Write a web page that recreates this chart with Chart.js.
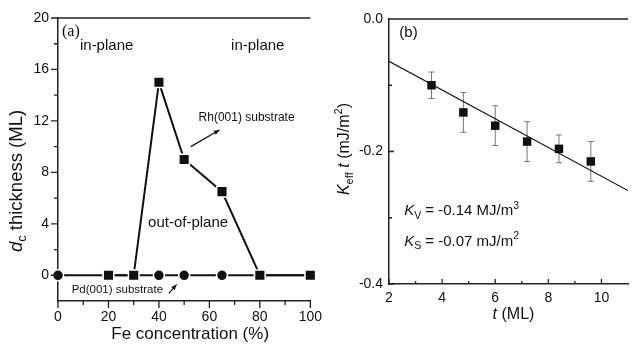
<!DOCTYPE html>
<html>
<head>
<meta charset="utf-8">
<script src="https://cdn.jsdelivr.net/npm/chart.js@4"></script>
<style>
  body { margin: 0; background: #fff; }
  #wrap { position: relative; width: 634px; height: 346px; overflow: hidden; }
  canvas { position: absolute; top: 0; }
</style>
</head>
<body>
<div id="wrap">
  <canvas id="chartA" width="330" height="346" style="left:0"></canvas>
  <canvas id="chartB" width="304" height="346" style="left:330px"></canvas>
</div>
<script>
// panel (a): critical thickness vs Fe concentration
const rhConc = [20, 30, 40, 50, 65, 80, 100];
const rhThick = [0, 0, 15, 9, 6.5, 0, 0];
const pdConc = [0, 20, 40, 50, 65, 80, 100];
const pdThick = [0, 0, 0, 0, 0, 0, 0];
const concTicks = [0, 20, 40, 60, 80, 100];
const thickTicks = [0, 4, 8, 12, 16, 20];

// panel (b): Keff*t vs t
const tVals = [3.6, 4.8, 6.0, 7.2, 8.4, 9.6];
const kVals = [-0.10, -0.141, -0.161, -0.185, -0.196, -0.215];
const kErr = [0.02, 0.03, 0.03, 0.03, 0.021, 0.03];
const fitT = [2, 11];
const fitK = [-0.064, -0.259];
const tTicks = [2, 4, 6, 8, 10];
const kTicks = [-0.4, -0.2, 0.0];

const FONT = '"Liberation Sans", Arial, sans-serif';
Chart.defaults.font.family = FONT;
Chart.defaults.color = '#111';

const toPoints = (xs, ys) => xs.map((x, i) => ({ x: x, y: ys[i] }));

function fontFor(p, size) {
  const s = (p.sub || p.sup) ? size * 0.7 : size;
  return (p.i ? 'italic ' : '') + s + 'px ' + FONT;
}

function drawRich(ctx, parts, x, y, size, align) {
  ctx.save();
  ctx.textBaseline = 'middle';
  ctx.textAlign = 'left';
  ctx.fillStyle = '#111';
  let w = 0;
  parts.forEach(p => { ctx.font = fontFor(p, size); w += ctx.measureText(p.t).width; });
  let cx = align === 'center' ? x - w / 2 : x;
  parts.forEach(p => {
    ctx.font = fontFor(p, size);
    const dy = p.sub ? size * 0.3 : (p.sup ? -size * 0.35 : 0);
    ctx.fillText(p.t, cx, y + dy);
    cx += ctx.measureText(p.t).width;
  });
  ctx.restore();
}

function drawRotated(ctx, parts, x, y, size) {
  ctx.save();
  ctx.translate(x, y);
  ctx.rotate(-Math.PI / 2);
  drawRich(ctx, parts, 0, 0, size, 'center');
  ctx.restore();
}

function drawArrow(ctx, x1, y1, x2, y2) {
  const a = Math.atan2(y2 - y1, x2 - x1);
  ctx.save();
  ctx.strokeStyle = '#111';
  ctx.fillStyle = '#111';
  ctx.lineWidth = 1.2;
  ctx.beginPath();
  ctx.moveTo(x1, y1);
  ctx.lineTo(x2, y2);
  ctx.stroke();
  ctx.beginPath();
  ctx.moveTo(x2, y2);
  ctx.lineTo(x2 - 6 * Math.cos(a - 0.4), y2 - 6 * Math.sin(a - 0.4));
  ctx.lineTo(x2 - 6 * Math.cos(a + 0.4), y2 - 6 * Math.sin(a + 0.4));
  ctx.closePath();
  ctx.fill();
  ctx.restore();
}

// dir 1 = ticks outside, -1 = inside
function drawTicks(chart, xMaj, xMin, yMaj, yMin, dir, majLen, minLen) {
  const { ctx, chartArea: ca, scales: { x, y } } = chart;
  ctx.save();
  ctx.strokeStyle = '#222';
  ctx.lineWidth = 1.3;
  ctx.beginPath();
  xMaj.concat(xMin).forEach((v, i) => {
    const len = i < xMaj.length ? majLen : minLen;
    const px = x.getPixelForValue(v);
    ctx.moveTo(px, ca.bottom);
    ctx.lineTo(px, ca.bottom + dir * len);
  });
  yMaj.concat(yMin).forEach((v, i) => {
    const len = i < yMaj.length ? majLen : minLen;
    const py = y.getPixelForValue(v);
    ctx.moveTo(ca.left, py);
    ctx.lineTo(ca.left - dir * len, py);
  });
  // top frame line
  ctx.moveTo(ca.left, ca.top);
  ctx.lineTo(ca.right, ca.top);
  ctx.stroke();
  ctx.restore();
}

const borderOpts = { display: true, color: '#222', width: 1.5 };

// ---------- panel (a) ----------
const aLabels = [
  { text: 'in-plane', x: 8.7, y: 17.8, size: 15 },
  { text: 'in-plane', x: 68.6, y: 17.8, size: 15 },
  { text: 'out-of-plane', x: 35.7, y: 4.07, size: 15 },
  { text: 'Rh(001) substrate', x: 55.7, y: 12.25, size: 12 },
  { text: 'Pd(001) substrate', x: 5.4, y: -1.1, size: 11.5 }
];

const panelA = {
  id: 'panelA',
  afterDraw(chart) {
    const { ctx, chartArea: ca, scales: { x, y } } = chart;
    drawTicks(chart, concTicks, [10, 30, 50, 70, 90], thickTicks, [2, 6, 10, 14, 18], 1, 7, 4);
    aLabels.forEach(l => drawRich(ctx, [{ t: l.text }], x.getPixelForValue(l.x), y.getPixelForValue(l.y), l.size, 'left'));
    ctx.save();
    ctx.font = '16px "Liberation Serif", serif';
    ctx.fillStyle = '#111';
    ctx.textBaseline = 'middle';
    ctx.fillText('(a)', x.getPixelForValue(1.6), y.getPixelForValue(18.9));
    ctx.restore();
    drawArrow(ctx, x.getPixelForValue(52.6), y.getPixelForValue(10.0), x.getPixelForValue(64), y.getPixelForValue(11.3));
    drawArrow(ctx, x.getPixelForValue(43.9), y.getPixelForValue(-1.4), x.getPixelForValue(47), y.getPixelForValue(-0.72));
    drawRich(ctx, [{ t: 'Fe concentration (%)' }], (ca.left + ca.right) / 2 + 6, 334, 17, 'center');
    drawRotated(ctx, [{ t: 'd', i: true }, { t: 'c', sub: true }, { t: ' thickness (ML)' }], 17, 181, 18.5);
  }
};

new Chart(document.getElementById('chartA'), {
  type: 'scatter',
  data: {
    datasets: [
      {
        label: 'Rh(001) substrate',
        data: toPoints(rhConc, rhThick),
        showLine: true,
        borderColor: '#111',
        borderWidth: 2,
        pointStyle: 'rect',
        pointRadius: 7.5,
        pointBackgroundColor: '#111',
        pointBorderColor: '#fff',
        pointBorderWidth: 1.5
      },
      {
        label: 'Pd(001) substrate',
        data: toPoints(pdConc, pdThick),
        showLine: true,
        borderColor: '#111',
        borderWidth: 2,
        pointStyle: 'circle',
        pointRadius: 5.5,
        pointBackgroundColor: '#111',
        pointBorderColor: '#fff',
        pointBorderWidth: 1.5
      }
    ]
  },
  options: {
    responsive: false,
    animation: false,
    clip: false,
    layout: { padding: { top: 18, right: 19, left: 0, bottom: 0 } },
    plugins: { legend: { display: false }, tooltip: { enabled: false } },
    scales: {
      x: {
        type: 'linear', min: 0, max: 100,
        afterBuildTicks: s => { s.ticks = concTicks.map(v => ({ value: v })); },
        afterFit: s => { s.height = 45; },
        grid: { display: false, drawTicks: false },
        border: borderOpts,
        ticks: { padding: 8, font: { size: 14 }, color: '#111' }
      },
      y: {
        type: 'linear', min: -2, max: 20,
        afterBuildTicks: s => { s.ticks = thickTicks.map(v => ({ value: v })); },
        afterFit: s => { s.width = 58; },
        grid: { display: false, drawTicks: false },
        border: borderOpts,
        ticks: { padding: 9, font: { size: 14 }, color: '#111' }
      }
    }
  },
  plugins: [panelA]
});

// ---------- panel (b) ----------
const panelB = {
  id: 'panelB',
  beforeDatasetsDraw(chart) {
    const { ctx, scales: { x, y } } = chart;
    ctx.save();
    ctx.strokeStyle = '#777';
    ctx.lineWidth = 1;
    ctx.beginPath();
    tVals.forEach((t, i) => {
      const px = x.getPixelForValue(t);
      const top = y.getPixelForValue(kVals[i] + kErr[i]);
      const bot = y.getPixelForValue(kVals[i] - kErr[i]);
      ctx.moveTo(px, top); ctx.lineTo(px, bot);
      ctx.moveTo(px - 3, top); ctx.lineTo(px + 3, top);
      ctx.moveTo(px - 3, bot); ctx.lineTo(px + 3, bot);
    });
    ctx.stroke();
    ctx.restore();
  },
  afterDraw(chart) {
    const { ctx, chartArea: ca, scales: { x, y } } = chart;
    drawTicks(chart, tTicks, [3, 5, 7, 9], kTicks, [-0.1, -0.3], -1, 5, 3);
    drawRich(ctx, [{ t: '(b)' }], x.getPixelForValue(2.39), y.getPixelForValue(-0.021), 15, 'left');
    drawRich(ctx, [{ t: 'K', i: true }, { t: 'V', sub: true }, { t: ' = -0.14 MJ/m' }, { t: '3', sup: true }],
      x.getPixelForValue(2.57), y.getPixelForValue(-0.29), 15, 'left');
    drawRich(ctx, [{ t: 'K', i: true }, { t: 'S', sub: true }, { t: ' = -0.07 mJ/m' }, { t: '2', sup: true }],
      x.getPixelForValue(2.57), y.getPixelForValue(-0.336), 15, 'left');
    drawRich(ctx, [{ t: 't', i: true }, { t: ' (ML)' }], (ca.left + ca.right) / 2 + 5, 315, 16, 'center');
    drawRotated(ctx, [{ t: 'K', i: true }, { t: 'eff', sub: true }, { t: ' ' }, { t: 't', i: true }, { t: ' (mJ/m' }, { t: '2', sup: true }, { t: ')' }], 15, 149, 16);
  }
};

new Chart(document.getElementById('chartB'), {
  type: 'scatter',
  data: {
    datasets: [
      {
        label: 'data',
        data: toPoints(tVals, kVals),
        showLine: false,
        pointStyle: 'rect',
        pointRadius: 6,
        pointBackgroundColor: '#111',
        pointBorderColor: '#111',
        pointBorderWidth: 0
      },
      {
        label: 'fit',
        data: toPoints(fitT, fitK),
        showLine: true,
        borderColor: '#111',
        borderWidth: 1.2,
        pointRadius: 0
      }
    ]
  },
  options: {
    responsive: false,
    animation: false,
    layout: { padding: { top: 19, right: 0, left: 0, bottom: 0 } },
    plugins: { legend: { display: false }, tooltip: { enabled: false } },
    scales: {
      x: {
        type: 'linear', min: 2, max: 11,
        afterBuildTicks: s => { s.ticks = tTicks.map(v => ({ value: v })); },
        afterFit: s => { s.height = 62; },
        grid: { display: false, drawTicks: false },
        border: borderOpts,
        ticks: { padding: 6, font: { size: 14 }, color: '#111' }
      },
      y: {
        type: 'linear', min: -0.4, max: 0,
        afterBuildTicks: s => { s.ticks = kTicks.map(v => ({ value: v })); },
        afterFit: s => { s.width = 59; },
        grid: { display: false, drawTicks: false },
        border: borderOpts,
        ticks: { padding: 6, font: { size: 14 }, color: '#111', callback: v => v.toFixed(1) }
      }
    }
  },
  plugins: [panelB]
});
</script>
</body>
</html>
